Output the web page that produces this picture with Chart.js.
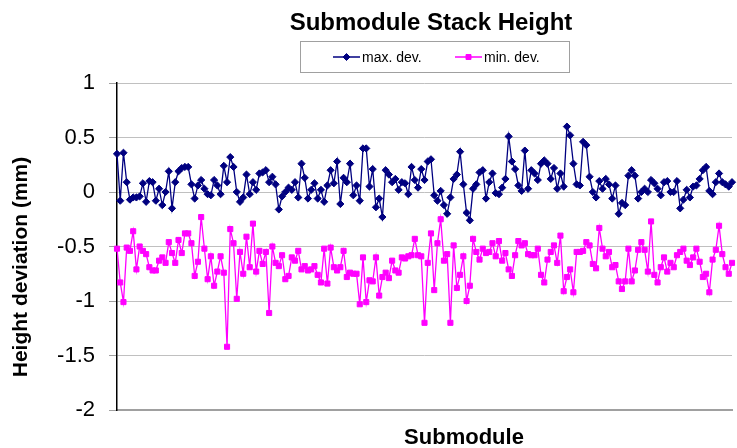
<!DOCTYPE html>
<html>
<head>
<meta charset="utf-8">
<script src="https://cdn.jsdelivr.net/npm/chart.js@4/dist/chart.umd.min.js"></script>
<style>
  html, body { margin: 0; padding: 0; background: #fff; overflow: hidden; }
  #wrap { width: 737px; height: 448px; position: relative; }
</style>
</head>
<body>
<div id="wrap"><canvas id="stackChart"></canvas></div>
<script>
// values (mm)
const maxDev = [
  0.35, -0.08, 0.36, 0.09, -0.07, -0.05, -0.05, -0.04, 0.08, -0.09, 0.10, 0.09, -0.08, 0.03, -0.12, 0.00,
  0.19, -0.15, 0.09, 0.19, 0.22, 0.23, 0.23, 0.07, -0.06, 0.06, 0.11, 0.03, -0.02, -0.03, 0.11, 0.06,
  -0.02, 0.24, 0.09, 0.32, 0.23, 0.00, -0.09, -0.05, 0.16, -0.02, 0.09, 0.02, 0.17, 0.18, 0.20, 0.09,
  0.14, 0.07, -0.16, -0.04, 0.00, 0.04, 0.02, 0.09, -0.05, 0.26, 0.13, -0.06, 0.02, 0.08, -0.06, 0.02,
  -0.09, 0.06, 0.20, 0.08, 0.28, -0.11, 0.13, 0.09, 0.26, -0.03, 0.06, -0.08, 0.40, 0.40, 0.05, 0.21,
  -0.14, -0.06, -0.23, 0.20, 0.16, 0.09, 0.12, 0.02, 0.09, 0.08, -0.02, 0.23, 0.11, 0.04, 0.21, 0.11,
  0.28, 0.30, -0.03, -0.08, 0.01, -0.12, -0.20, -0.05, 0.12, 0.16, 0.37, 0.07, -0.19, -0.26, 0.03, 0.07,
  0.18, 0.20, -0.06, 0.09, 0.17, -0.01, -0.02, 0.04, 0.12, 0.51, 0.28, 0.21, 0.06, 0.01, 0.38, 0.03,
  0.20, 0.17, 0.11, 0.26, 0.29, 0.26, 0.12, 0.22, 0.03, 0.17, 0.05, 0.60, 0.52, 0.26, 0.07, 0.06,
  0.46, 0.43, 0.14, 0.00, -0.05, 0.10, 0.03, 0.12, 0.07, -0.06, 0.06, -0.20, -0.10, -0.12, 0.15, 0.20,
  0.15, -0.06, 0.00, 0.03, 0.00, 0.11, 0.08, 0.03, -0.03, 0.09, 0.10, 0.00, 0.00, 0.10, -0.15, -0.07,
  0.02, -0.05, 0.05, 0.06, 0.12, 0.20, 0.23, 0.01, -0.02, 0.09, 0.17, 0.09, 0.07, 0.05, 0.09
];
const minDev = [
  -0.52, -0.83, -1.01, -0.51, -0.54, -0.36, -0.71, -0.50, -0.54, -0.57, -0.69, -0.72, -0.72, -0.63, -0.60, -0.65,
  -0.46, -0.56, -0.65, -0.44, -0.56, -0.38, -0.38, -0.47, -0.77, -0.64, -0.23, -0.52, -0.80, -0.59, -0.86, -0.73,
  -0.59, -0.74, -1.42, -0.34, -0.47, -0.98, -0.55, -0.75, -0.41, -0.69, -0.29, -0.73, -0.54, -0.66, -0.55, -1.11,
  -0.50, -0.65, -0.68, -0.58, -0.80, -0.77, -0.60, -0.63, -0.54, -0.71, -0.68, -0.72, -0.71, -0.68, -0.76, -0.83,
  -0.52, -0.84, -0.51, -0.69, -0.72, -0.69, -0.54, -0.78, -0.74, -0.75, -0.75, -1.03, -0.60, -1.01, -0.81, -0.82,
  -0.60, -0.95, -0.78, -0.74, -0.79, -0.63, -0.72, -0.74, -0.60, -0.61, -0.59, -0.58, -0.43, -0.58, -0.59, -1.20,
  -0.65, -0.38, -0.90, -0.47, -0.25, -0.63, -0.57, -1.20, -0.49, -0.88, -0.76, -0.59, -1.00, -0.86, -0.43, -0.55,
  -0.62, -0.52, -0.56, -0.55, -0.47, -0.59, -0.45, -0.63, -0.56, -0.71, -0.77, -0.58, -0.45, -0.49, -0.47, -0.57,
  -0.58, -0.58, -0.52, -0.76, -0.83, -0.62, -0.55, -0.49, -0.65, -0.40, -0.91, -0.78, -0.71, -0.92, -0.55, -0.55,
  -0.54, -0.46, -0.49, -0.66, -0.70, -0.33, -0.52, -0.59, -0.55, -0.69, -0.67, -0.82, -0.89, -0.82, -0.52, -0.82,
  -0.72, -0.53, -0.46, -0.53, -0.73, -0.27, -0.76, -0.83, -0.69, -0.60, -0.73, -0.65, -0.69, -0.58, -0.55, -0.52,
  -0.63, -0.67, -0.60, -0.52, -0.64, -0.78, -0.75, -0.92, -0.62, -0.53, -0.31, -0.57, -0.69, -0.75, -0.65
];
// submodule numbers (x categories, no tick labels shown)
const submodules = maxDev.map((_, i) => i + 1);
const yTickValues = [1, 0.5, 0, -0.5, -1, -1.5, -2];
const yTickLabels = ['1', '0.5', '0', '-0.5', '-1', '-1.5', '-2'];
const seriesNames = ['max. dev.', 'min. dev.'];

const FONT = '"Liberation Sans", Arial, sans-serif';
const NAVY = '#000080';
const MAGENTA = '#ff00ff';

// titles + boxed legend drawn by hand so they sit where the original puts them
const textPlugin = {
  id: 'textPlugin',
  afterDraw(chart) {
    const ctx = chart.ctx;
    ctx.save();
    ctx.fillStyle = '#000';

    // chart title
    ctx.font = 'bold 24px ' + FONT;
    ctx.textAlign = 'center';
    ctx.textBaseline = 'alphabetic';
    ctx.fillText('Submodule Stack Height', 431, 30);

    // x axis title
    ctx.font = 'bold 22px ' + FONT;
    ctx.fillText('Submodule', 464, 444);

    // y axis title
    ctx.save();
    ctx.translate(27, 267);
    ctx.rotate(-Math.PI / 2);
    ctx.font = 'bold 21px ' + FONT;
    ctx.fillText('Height deviation (mm)', 0, 0);
    ctx.restore();

    // legend box
    ctx.strokeStyle = '#a0a0a0';
    ctx.lineWidth = 1;
    ctx.strokeRect(300.5, 41.5, 269, 31);

    const items = [
      { x: 333, color: NAVY, style: 'rectRot' },
      { x: 455, color: MAGENTA, style: 'rect' }
    ];
    ctx.font = '14px ' + FONT;
    ctx.textAlign = 'left';
    ctx.textBaseline = 'middle';
    items.forEach((it, i) => {
      const y = 57;
      ctx.strokeStyle = it.color;
      ctx.lineWidth = 1.5;
      ctx.beginPath();
      ctx.moveTo(it.x, y);
      ctx.lineTo(it.x + 27, y);
      ctx.stroke();
      ctx.fillStyle = it.color;
      ctx.lineWidth = 1;
      Chart.helpers.drawPoint(ctx, { pointStyle: it.style, radius: 3.5, rotation: 0, borderWidth: 1 }, it.x + 13.5, y);
      ctx.fillStyle = '#000';
      ctx.fillText(seriesNames[i], it.x + 29, y + 1);
    });
    ctx.restore();
  }
};

const ctx = document.getElementById('stackChart');
new Chart(ctx, {
  type: 'line',
  data: {
    labels: submodules,
    datasets: [
      {
        label: seriesNames[0],
        data: maxDev,
        borderColor: NAVY,
        backgroundColor: NAVY,
        borderWidth: 1.3,
        pointStyle: 'rectRot',
        pointRadius: 3.6,
        pointBorderWidth: 1,
        pointBackgroundColor: NAVY,
        pointBorderColor: NAVY,
        tension: 0
      },
      {
        label: seriesNames[1],
        data: minDev,
        borderColor: MAGENTA,
        backgroundColor: MAGENTA,
        borderWidth: 1.3,
        pointStyle: 'rect',
        pointRadius: 3.6,
        pointBorderWidth: 1,
        pointBackgroundColor: MAGENTA,
        pointBorderColor: MAGENTA,
        tension: 0
      }
    ]
  },
  options: {
    responsive: true,
    maintainAspectRatio: false,
    animation: false,
    events: [],
    layout: { padding: { top: 83, bottom: 38, left: 0, right: 0 } },
    plugins: {
      title: { display: false },
      legend: { display: false },
      tooltip: { enabled: false }
    },
    scales: {
      x: {
        type: 'category',
        offset: false,
        ticks: { display: false },
        grid: { display: false },
        border: { display: true, color: '#a0a0a0', width: 2 },
        afterFit: s => { s.height = 0; }
      },
      y: {
        min: -2,
        max: 1,
        afterFit: s => { s.width = 117; },
        afterBuildTicks: s => { s.ticks = yTickValues.map(v => ({ value: v })); },
        ticks: {
          color: '#000',
          font: { family: FONT, size: 22 },
          padding: 14,
          callback: v => yTickLabels[yTickValues.indexOf(v)]
        },
        grid: { color: '#c0c0c0', tickColor: '#a0a0a0', tickLength: 8, lineWidth: 1 },
        border: { display: true, color: '#000', width: 1.5 }
      }
    }
  },
  plugins: [textPlugin]
});
</script>
</body>
</html>
